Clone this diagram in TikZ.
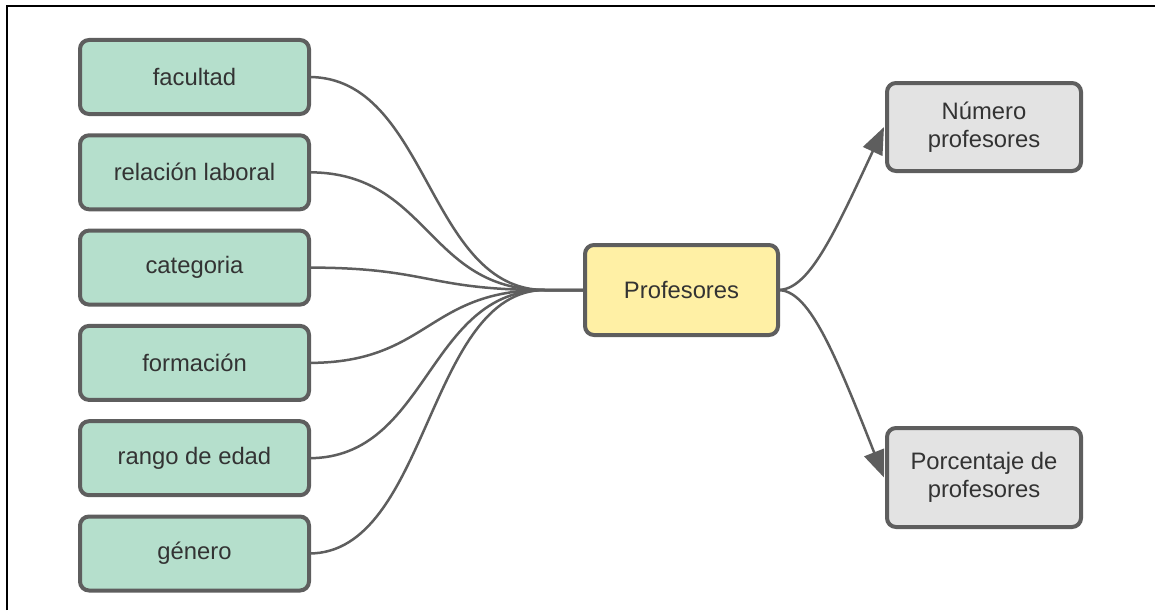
\documentclass[tikz,border=0pt]{standalone}
\usepackage{fontspec}
\setmainfont{Liberation Sans}
\usetikzlibrary{arrows.meta,calc}
\definecolor{gfill}{RGB}{181,223,204}
\definecolor{yfill}{RGB}{255,240,165}
\definecolor{grfill}{RGB}{227,227,227}
\definecolor{bord}{RGB}{94,94,94}
\definecolor{txt}{RGB}{51,51,51}
\begin{document}
\begin{tikzpicture}[x=1pt,y=-1pt,
  box/.style={draw=bord, line width=4pt, rounded corners=9pt, inner sep=0pt, outer sep=0pt,
    align=center, font=\fontsize{23.8}{28}\selectfont, text=txt},
  greenbox/.style={box, fill=gfill, minimum width=229pt, minimum height=74pt},
  conn/.style={draw=bord, line width=2.5pt},
  arr/.style={conn, -{Triangle[length=27pt,width=21pt]}}]
\useasboundingbox (0,0) rectangle (1155,610);
\draw[line width=2pt] (6.5,610) -- (6.5,6.5) -- (1155,6.5);

\node[greenbox] (g1) at (194.5,77) {facultad};
\node[greenbox] (g2) at (194.5,172.3) {relación laboral};
\node[greenbox] (g3) at (194.5,267.6) {categoria};
\node[greenbox] (g4) at (194.5,362.9) {formación};
\node[greenbox] (g5) at (194.5,458.2) {rango de edad};
\node[greenbox] (g6) at (194.5,553.5) {género};

\node[box, fill=yfill, minimum width=193pt, minimum height=90pt] (p) at (681.5,290) {Profesores};
\node[box, fill=grfill, minimum width=194pt, minimum height=88pt] (n) at (984,127) {Número\\profesores};
\node[box, fill=grfill, minimum width=194pt, minimum height=99pt] (q) at (984,477.5) {Porcentaje de\\profesores};

\coordinate (m) at ([xshift=-40pt]p.west);
\foreach \g in {g1,g2,g3,g4,g5,g6}{
  \draw[conn] (\g.east) .. controls +(120,0) and +(-118,0) .. (m) -- (p.west);
}
\draw[arr] (p.east) .. controls +(30,0) and +(-52,112) .. ([xshift=-3pt]n.west);
\draw[arr] (p.east) .. controls +(30,0) and +(-52,-132) .. ([xshift=-3pt]q.west);
\end{tikzpicture}
\end{document}
